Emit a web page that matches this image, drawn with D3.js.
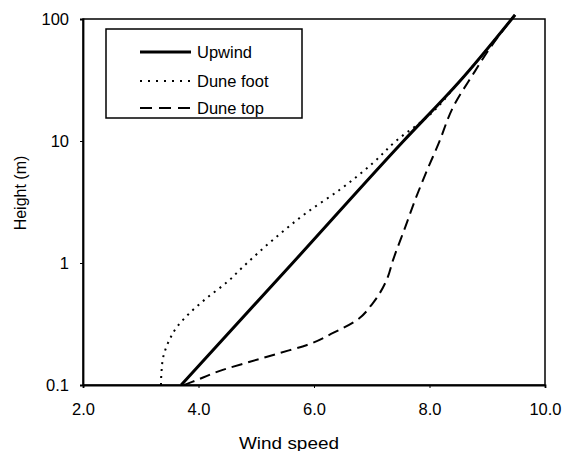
<!DOCTYPE html>
<html><head><meta charset="utf-8">
<script src="https://cdn.jsdelivr.net/npm/d3@7"></script>
<style>body{margin:0;background:#fff}svg{display:block}text{font-family:"Liberation Sans",Arial,sans-serif;fill:#000}</style>
</head><body><svg id="c" width="564" height="451"></svg>
<script>
const xTicks = [2, 4, 6, 8, 10];
const yTicks = [0.1, 1, 10, 100];
const yTickLabels = ["0.1", "1", "10", "100"];
const seriesNames = ["Upwind", "Dune foot", "Dune top"];
const upwindHeight = [0.1, 1, 10, 30, 108];
const upwindSpeed  = [3.7, 5.63, 7.55, 8.5, 9.48];
const footHeight = [0.1, 0.13, 0.17, 0.22, 0.3, 0.39, 0.52, 0.7, 0.91, 1.55, 2.6, 4, 6.6, 10.2, 15.7, 30, 108];
const footSpeed  = [3.35, 3.36, 3.39, 3.47, 3.63, 3.85, 4.15, 4.5, 4.75, 5.29, 5.88, 6.45, 7.02, 7.44, 7.96, 8.5, 9.48];
const topHeight = [0.1, 0.106, 0.133, 0.155, 0.183, 0.213, 0.267, 0.34, 0.47, 0.73, 1.06, 1.97, 3.28, 5.78, 9.6, 19, 35, 58, 108];
const topSpeed  = [3.75, 3.89, 4.42, 4.89, 5.41, 5.88, 6.33, 6.74, 7.02, 7.26, 7.37, 7.58, 7.75, 7.96, 8.16, 8.41, 8.75, 9.05, 9.48];

const svg = d3.select("#c");
const L = 83, R = 545, T = 19, B = 385;
const x = d3.scaleLinear().domain([2, 10]).range([L, R]);
const y = d3.scaleLog().domain([0.1, 100]).range([B, T]);

// frame
svg.append("rect").attr("x", L).attr("y", T).attr("width", R - L).attr("height", B - T)
  .attr("fill", "none").attr("stroke", "#000").attr("stroke-width", 1.5);

// axes
const xa = svg.append("g").attr("transform", `translate(0,${B})`)
  .call(d3.axisBottom(x).tickValues(xTicks).tickFormat(d3.format(".1f")).tickSize(3).tickPadding(15));
const ya = svg.append("g").attr("transform", `translate(${L},0)`)
  .call(d3.axisLeft(y).tickValues(yTicks).tickFormat((d, i) => yTickLabels[i]).tickSize(3).tickPadding(11));
[xa, ya].forEach(g => {
  g.select(".domain").attr("stroke", "#000").attr("stroke-width", 1.8);
  g.selectAll("text").attr("font-size", 16.5).attr("font-family", '"Liberation Sans",Arial,sans-serif').attr("fill", "#000");
  g.selectAll("line").attr("stroke", "#000");
});

// titles
svg.append("text").attr("x", 289).attr("y", 449).attr("text-anchor", "middle").attr("font-size", 16.5)
  .attr("textLength", 100).attr("lengthAdjust", "spacingAndGlyphs").text("Wind speed");
svg.append("text").attr("transform", "translate(26,193) rotate(-90)").attr("text-anchor", "middle").attr("font-size", 16).text("Height (m)");

// lines
const line = d3.line().x(d => x(d[1])).y(d => y(d[0])).curve(d3.curveMonotoneY);
const series = [
  {h: upwindHeight, s: upwindSpeed, w: 3, dash: null},
  {h: footHeight, s: footSpeed, w: 2, dash: "2,5"},
  {h: topHeight, s: topSpeed, w: 2, dash: "11,6"}
];
series.forEach(sr => {
  const pts = sr.h.map((h, i) => [h, sr.s[i]]);
  svg.append("path").datum(pts).attr("d", line).attr("fill", "none")
    .attr("stroke", "#000").attr("stroke-width", sr.w).attr("stroke-dasharray", sr.dash);
});

// legend
svg.append("rect").attr("x", 106).attr("y", 29).attr("width", 196).attr("height", 89)
  .attr("fill", "#fff").attr("stroke", "#000").attr("stroke-width", 1.5);
const rowsY = [52, 81, 108];
const legendDash = [null, "2,6", "12,7"];
series.forEach((sr, i) => {
  svg.append("line").attr("x1", 140).attr("x2", 191).attr("y1", rowsY[i]).attr("y2", rowsY[i])
    .attr("stroke", "#000").attr("stroke-width", sr.w).attr("stroke-dasharray", legendDash[i]);
  svg.append("text").attr("x", 197).attr("y", rowsY[i] + 6).attr("font-size", 16.5).text(seriesNames[i]);
});
</script></body></html>
